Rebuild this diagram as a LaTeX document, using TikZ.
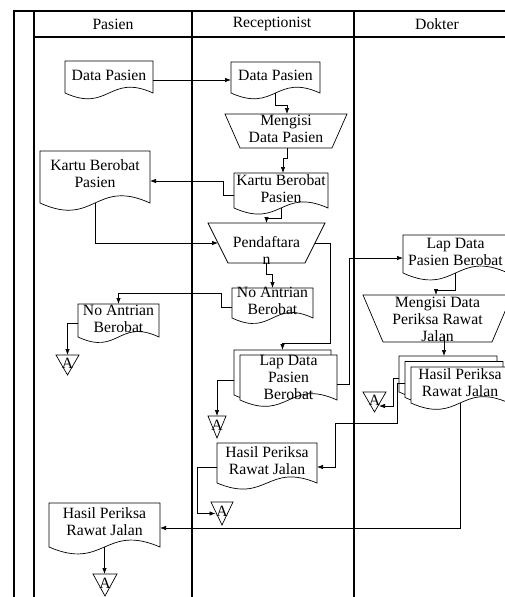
\documentclass[tikz,border=0pt]{standalone}
\usepackage{fontspec}
\setmainfont{Liberation Serif}
\usetikzlibrary{calc,arrows.meta}
\pgfdeclarelayer{bg}
\pgfsetlayers{bg,main}
\newcommand\fs{\fontsize{15.7}{17}\selectfont}
\newcommand\tx[4][0]{\vbox to #3pt{\vss\hbox to #2pt{\hss\begin{tabular}{@{}c@{}}#4\end{tabular}\hss}\vskip #1pt\vss}}
\newcommand\docpath[4]{($(#1.south west)+(#2,#3)$) -- ($(#1.north west)+(#2,#3)$) -- ($(#1.north east)+(#2,#3)$) -- ($(#1.south east)+(#2,#3)$) .. controls ($(#1.south)+(#2,#3-#4)$) and ($(#1.south)+(#2,#3+#4)$) .. ($(#1.south west)+(#2,#3)$) -- cycle}
\newcommand\docout[2][21]{\draw[shpline] \docpath{#2}{0}{0}{#1};}
\newcommand\trapout[2]{\draw[shpline] (#1.north west) -- (#1.north east) -- ($(#1.south east)+(-#2,0)$) -- ($(#1.south west)+(#2,0)$) -- cycle;}
\newcommand\triout[1]{\draw[shpline] (#1.north west) -- (#1.north east) -- (#1.south) -- cycle;}
\tikzset{
  frame/.style={line width=1.4pt},
  shpline/.style={line width=0.7pt, fill=white},
  box/.style={inner sep=0pt, outer sep=0pt, font=\fs},
  arr/.style={line width=0.7pt, -{Latex[length=6pt,width=4.5pt]}},
  ln/.style={line width=0.7pt}
}
\begin{document}
\begin{tikzpicture}[x=1pt,y=-1pt]
\useasboundingbox (0,0) rectangle (505,597);
\clip (0,0) rectangle (505,597);
% header
\node[box] (hp) at (113,24) {Pasien};
\node[box] (hr) at (272,24) {Receptionist};
\node[box] (hd) at (437,24) {Dokter};
% nodes
\node[box] (p1) at (109,77) {\tx{88}{32}{Data Pasien}};
\node[box] (r1) at (275.5,77.5) {\tx{89}{31}{Data Pasien}};
\node[box] (r2) at (286,131) {\tx{122}{34}{Mengisi\\Data Pasien}};
\node[box] (r3) at (281,190.5) {\tx{94}{35}{Kartu Berobat\\Pasien}};
\node[box] (p2) at (95,177) {\tx[3]{110}{52}{Kartu Berobat\\Pasien}};
\node[box] (r4) at (266.5,243) {\tx[-20]{117}{40}{Pendaftara\\n}};
\node[box] (r5) at (272.5,303) {\tx{81}{30}{No Antrian\\Berobat}};
\node[box] (p3) at (118.5,320.5) {\tx{81}{33}{No Antrian\\Berobat}};
\node[box] (ap1) at (67.5,365) {\tx{23}{20}{A}};
\node[box] (r6) at (288.5,377.5) {\tx[-4]{97}{45}{Lap Data\\Pasien\\Berobat}};
\node[box] (ar1) at (217,427) {\tx{18}{22}{A}};
\node[box] (d1) at (455.5,254) {\tx{105}{38}{Lap Data\\Pasien Berobat}};
\node[box] (d2) at (437.5,318.5) {\tx[-5]{149}{47}{Mengisi Data\\Periksa Rawat\\Jalan}};
\node[box] (d3) at (460,385) {\tx{98}{36}{Hasil Periksa\\Rawat Jalan}};
\node[box] (ad1) at (374.5,402) {\tx{23}{20}{A}};
\node[box] (r7) at (267,463) {\tx{100}{40}{Hasil Periksa\\Rawat Jalan}};
\node[box] (ar2) at (222,513.5) {\tx{22}{23}{A}};
\node[box] (p4) at (104.5,525) {\tx[3]{111}{44}{Hasil Periksa\\Rawat Jalan}};
\node[box] (ap2) at (105,585) {\tx{24}{22}{A}};
\begin{pgfonlayer}{bg}
  \draw[frame] (14,597) -- (14,11) -- (505,11);
  \draw[frame] (34,597) -- (34,11);
  \draw[frame] (192,597) -- (192,11);
  \draw[frame] (354,597) -- (354,11);
  \draw[frame] (34,37) -- (505,37);
  \docout[20]{p1}
  \docout[20]{r1}
  \trapout{r2}{15}
  \docout[21]{r3}
  \docout[25]{p2}
  \trapout{r4}{20}
  \docout[19]{r5}
  \docout[19]{p3}
  \triout{ap1}
  \draw[shpline] \docpath{r6}{-6}{-5}{22};
  \docout[22]{r6}
  \triout{ar1}
  \docout[24]{d1}
  \trapout{d2}{20}
  \draw[shpline] \docpath{d3}{-12}{-11}{22};
  \draw[shpline] \docpath{d3}{-6}{-5.5}{22};
  \docout[22]{d3}
  \triout{ad1}
  \docout[21]{r7}
  \triout{ar2}
  \docout[24]{p4}
  \triout{ap2}
\end{pgfonlayer}
% connectors
\draw[arr] ($(p1.east)+(0,3)$) -- ($(r1.west)+(0,2.5)$);
\draw[arr] (r1.south) -- ++(0,12) -| ($(r2.north)+(1,0)$);
\draw[arr] ($(r2.south)+(1,0)$) -- ++(0,10) -| ($(r3.north)+(2,0)$);
\draw[arr] ($(r3.west)+(0,4.5)$) -- ++(-11,0) |- ($(p2.east)+(0,4)$);
\draw[arr] (p2.south) |- ($(r4.west)+(10,0)$);
\draw[arr] (r3.south) -- ++(0,10) -| (r4.north);
\draw[arr] (r4.south) -- ++(0,11) -| (r5.north);
\draw[arr] ($(r5.west)+(0,4)$) -- ++(-11,0) -- ++(0,-14) -| (p3.north);
\draw[arr] ($(p3.west)+(0,2.5)$) -| (ap1.north);
\draw[arr] ($(r4.east)+(-10,0)$) -- ++(15,0) |- ($(r6.north)+(-6,-12)$) -- ($(r6.north)+(-6,-5)$);
\draw[arr] ($(r6.east)+(0,6.5)$) -- ++(12,0) |- ($(d1.west)+(0,4)$);
\draw[arr] ($(r6.west)+(-6,2.5)$) -| (ar1.north);
\draw[arr] (d1.south) -- ++(0,17) -| ($(d2.north)+(-1.5,0)$);
\draw[arr] ($(d2.south)+(6.5,-7)$) -- ($(d3.north)+(-16,-11)$);
\draw[arr] ($(d3.west)+(-12,-7)$) -- ++(-6,0) |- ($(ad1.east)+(-7,4)$);
\draw[arr] ($(d3.west)+(-6,-2)$) -- ++(-8,0) |- ($(r7.east)+(18,-40)$) |- ($(r7.east)+(0,4)$);
\draw[arr] (d3.south) |- ($(p4.east)+(0,3)$);
\draw[arr] ($(r7.west)+(0,4)$) -- ++(-20,0) |- ($(ar2.west)+(4.5,0)$);
\draw[arr] (p4.south) -- (p4.south |- ap2.north);
\end{tikzpicture}
\end{document}
